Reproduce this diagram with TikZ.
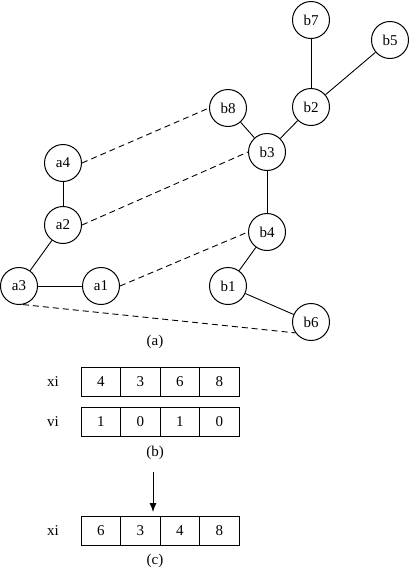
\documentclass[tikz,border=0pt]{standalone}
\usepackage{fontspec}
\setmainfont{Liberation Serif}
\usetikzlibrary{arrows.meta}
\begin{document}
\begin{tikzpicture}[x=1pt,y=-1pt,
  vtx/.style={draw,circle,line width=1pt,minimum size=37pt,inner sep=0pt,font=\fontsize{15}{17}\selectfont},
  edge/.style={line width=0.9pt},
  link/.style={line width=0.9pt,dash pattern=on 6pt off 4pt},
  cell/.style={draw,line width=1pt,minimum width=39.5pt,minimum height=29pt,inner sep=0pt,font=\fontsize{15}{17}\selectfont},
  lbl/.style={font=\fontsize{15}{17}\selectfont,inner sep=0pt}]
\useasboundingbox (0,0) rectangle (410,568);
% graph (a)
\node[vtx] (b7) at (311,20) {b7};
\node[vtx] (b5) at (390,40) {b5};
\node[vtx] (b8) at (228,108) {b8};
\node[vtx] (b2) at (311,107) {b2};
\node[vtx] (b3) at (267,152) {b3};
\node[vtx] (a4) at (63,163) {a4};
\node[vtx] (a2) at (63,225) {a2};
\node[vtx] (b4) at (267,232) {b4};
\node[vtx] (a3) at (19,286) {a3};
\node[vtx] (a1) at (101,286) {a1};
\node[vtx] (b1) at (228,286) {b1};
\node[vtx] (b6) at (311,322) {b6};
\draw[edge] (b7) -- (b2);
\draw[edge] (b5) -- (b2);
\draw[edge] (b8) -- (b3);
\draw[edge] (b2) -- (b3);
\draw[edge] (b3) -- (b4);
\draw[edge] (b4) -- (b1);
\draw[edge] (b1) -- (b6);
\draw[edge] (a4) -- (a2);
\draw[edge] (a2) -- (a3);
\draw[edge] (a3) -- (a1);
\draw[link] (a4.east) -- (b8.west);
\draw[link] (a2.east) -- (b3.west);
\draw[link] (a1.east) -- (b4.west);
\draw[link] (a3.-78) -- (b6.215);
\node[lbl] (capa) at (155,342) {(a)};
% arrays (b)
\foreach \v [count=\i] in {4,3,6,8} {
  \node[cell] (x\i) at ({81+39.5*(\i-0.5)},381.5) {\v};
}
\foreach \v [count=\i] in {1,0,1,0} {
  \node[cell] (v\i) at ({81+39.5*(\i-0.5)},421.5) {\v};
}
\node[lbl] (xil) at (53,382) {xi};
\node[lbl] (vil) at (53,422) {vi};
\node[lbl] (capb) at (155,453) {(b)};
% arrow
\coordinate (as) at (153,472);
\coordinate (ae) at (153,512);
\draw[line width=0.9pt,-{Latex[length=9pt,width=7pt]}] (as) -- (ae);
% array (c)
\foreach \v [count=\i] in {6,3,4,8} {
  \node[cell] (y\i) at ({81+39.5*(\i-0.5)},530.5) {\v};
}
\node[lbl] (xil2) at (53,531) {xi};
\node[lbl] (capc) at (155,561) {(c)};
\end{tikzpicture}
\end{document}
